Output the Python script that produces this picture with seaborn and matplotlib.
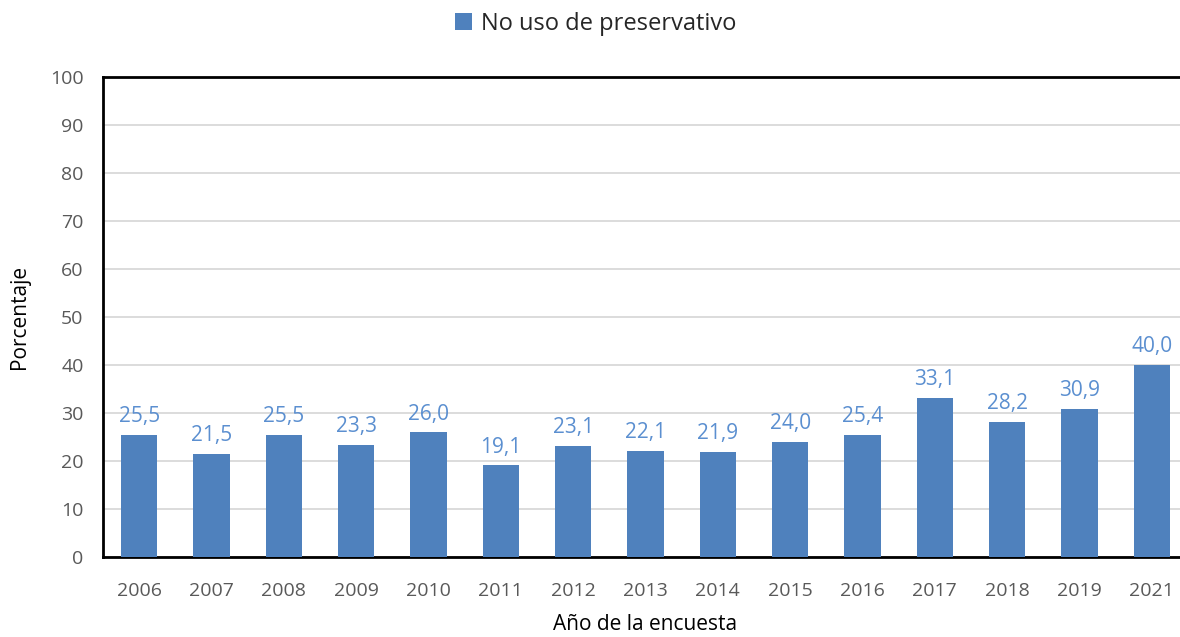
import matplotlib
matplotlib.use("Agg")
import matplotlib.pyplot as plt
import seaborn as sns
import pandas as pd

# ── data
years = ["2006", "2007", "2008", "2009", "2010", "2011", "2012", "2013",
         "2014", "2015", "2016", "2017", "2018", "2019", "2021"]
no_uso = [25.5, 21.5, 25.5, 23.3, 26.0, 19.1, 23.1, 22.1,
          21.9, 24.0, 25.4, 33.1, 28.2, 30.9, 40.0]
series_name = "No uso de preservativo"
y_ticks = list(range(0, 101, 10))

BAR = "#4F81BD"
LABEL = "#5B8FD0"
TICK = "#595959"

sns.set_theme(style="white")
plt.rcParams["font.family"] = ["Open Sans", "DejaVu Sans"]

df = pd.DataFrame({"year": years, "pct": no_uso})

fig = plt.figure(figsize=(11.8, 6.37), dpi=100)
ax = fig.add_axes([103 / 1180, 80 / 637, 1085 / 1180, 480 / 637])

sns.barplot(data=df, x="year", y="pct", color=BAR, width=0.5,
            saturation=1, ax=ax, label=series_name, zorder=3,
            linewidth=0, edgecolor=BAR)

ax.set_ylim(0, 100)
ax.set_yticks(y_ticks)
ax.set_xlim(-0.5, len(years) - 0.5)
ax.yaxis.grid(True, color="#D9D9D9", lw=1.3, zorder=0)
ax.xaxis.grid(False)
for s in ax.spines.values():
    s.set_color("black")
    s.set_linewidth(2)

ax.tick_params(axis="both", colors=TICK, labelsize=14, length=0)
ax.tick_params(axis="x", pad=18)
ax.tick_params(axis="y", pad=14)
ax.set_xlabel("Año de la encuesta", fontsize=15, color="black", labelpad=10)
ax.set_ylabel("Porcentaje", fontsize=15, color="black", labelpad=14)

# value labels, comma decimal
for i, v in enumerate(no_uso):
    ax.text(i, v + 1.6, f"{v:.1f}".replace(".", ","), ha="center",
            va="bottom", fontsize=15, color=LABEL)

handles, labels = ax.get_legend_handles_labels()
if ax.get_legend() is not None:
    ax.get_legend().remove()
fig.legend(handles, labels, loc="center", bbox_to_anchor=(0.505, 0.963),
           frameon=False, fontsize=17, handlelength=0.7,
           handleheight=0.7, handletextpad=0.4)

fig.savefig("out.png", dpi=100)
